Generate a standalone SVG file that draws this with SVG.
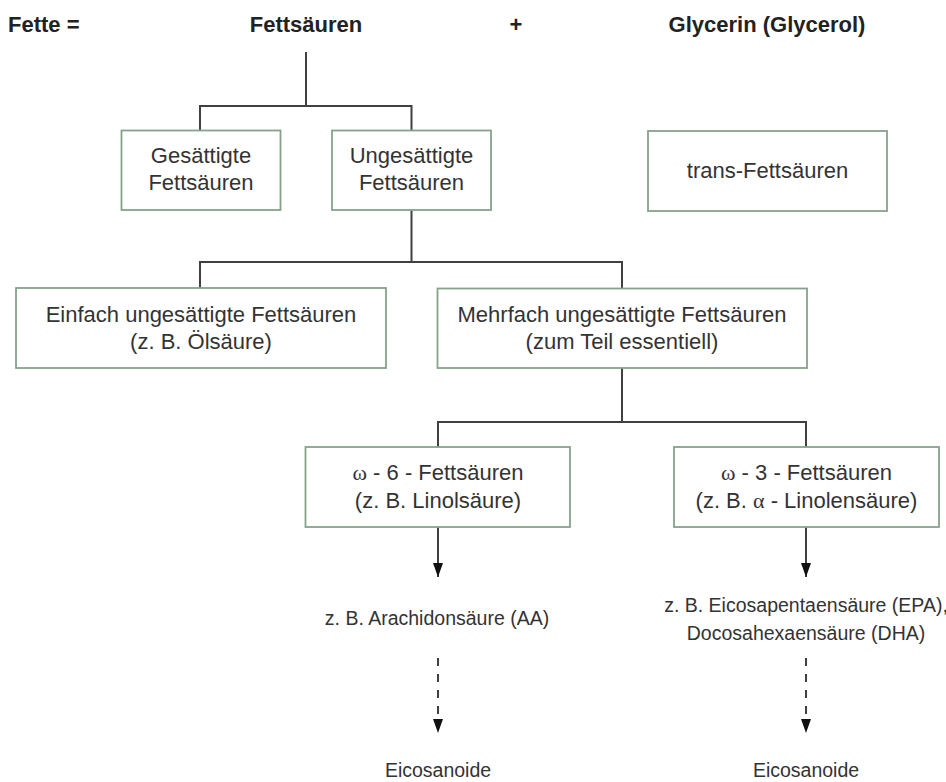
<svg xmlns="http://www.w3.org/2000/svg" width="946" height="782" viewBox="0 0 946 782">
<style>
.title{font-family:"Liberation Sans",Arial,sans-serif;font-weight:bold;font-size:22px;fill:#222}
.box{fill:#fff;stroke:#86a28b;stroke-width:1.8}
.t{font-family:"Liberation Sans",Arial,sans-serif;font-size:22px;fill:#333;text-anchor:middle}
.f{font-family:"Liberation Sans",Arial,sans-serif;font-size:19.5px;fill:#333;text-anchor:middle}
.g{font-family:"Liberation Serif","Times New Roman",serif}
.ln{fill:none;stroke:#404040;stroke-width:2}
.dash{stroke-dasharray:8 8}
</style>
<defs>
<marker id="ah" viewBox="0 0 14 10" refX="14" refY="5" markerWidth="14" markerHeight="10" markerUnits="userSpaceOnUse" orient="auto">
<path d="M0,0 L14,5 L0,10 z" fill="#111"/>
</marker>
</defs>
<rect width="946" height="782" fill="#fff"/>
<g id="header">
<text class="title" x="8" y="32">Fette =</text>
<text class="title" x="306" y="32" text-anchor="middle">Fettsäuren</text>
<text class="title" x="516" y="32" text-anchor="middle">+</text>
<text class="title" x="767" y="32" text-anchor="middle">Glycerin (Glycerol)</text>
</g>
<g id="connectors">
<path class="ln" d="M306,52 V106 M200,130 V106 H411.5 V130"/>
<path class="ln" d="M411.5,210 V262 M200,288 V262 H622 V288"/>
<path class="ln" d="M622,368 V422 M438,447 V422 H806 V447"/>
<path class="ln" d="M438,527 V577" marker-end="url(#ah)"/>
<path class="ln" d="M806,527 V577" marker-end="url(#ah)"/>
<path class="ln dash" d="M438,658 V733" marker-end="url(#ah)"/>
<path class="ln dash" d="M806,658 V733" marker-end="url(#ah)"/>
</g>
<g id="gesaettigte">
<rect class="box" x="121.5" y="130.5" width="159" height="79.5"/>
<text class="t" x="201" y="163">Gesättigte</text>
<text class="t" x="201" y="190">Fettsäuren</text>
</g>
<g id="ungesaettigte">
<rect class="box" x="332" y="130.5" width="159" height="79.5"/>
<text class="t" x="411.5" y="163">Ungesättigte</text>
<text class="t" x="411.5" y="190">Fettsäuren</text>
</g>
<g id="trans">
<rect class="box" x="648" y="131" width="239" height="80"/>
<text class="t" x="767.5" y="178">trans-Fettsäuren</text>
</g>
<g id="einfach">
<rect class="box" x="16" y="288" width="370" height="80"/>
<text class="t" x="201" y="322">Einfach ungesättigte Fettsäuren</text>
<text class="t" x="201" y="349">(z. B. Ölsäure)</text>
</g>
<g id="mehrfach">
<rect class="box" x="437.5" y="288.5" width="369.5" height="79.5"/>
<text class="t" x="622" y="322">Mehrfach ungesättigte Fettsäuren</text>
<text class="t" x="622" y="349">(zum Teil essentiell)</text>
</g>
<g id="omega6">
<rect class="box" x="305.5" y="447" width="264.5" height="80"/>
<text class="t" x="438" y="480"><tspan class="g">ω</tspan> - 6 - Fettsäuren</text>
<text class="t" x="438" y="508">(z. B. Linolsäure)</text>
</g>
<g id="omega3">
<rect class="box" x="674" y="447" width="265" height="80"/>
<text class="t" x="806.5" y="480"><tspan class="g">ω</tspan> - 3 - Fettsäuren</text>
<text class="t" x="806.5" y="508">(z. B. <tspan class="g">α</tspan> - Linolensäure)</text>
</g>
<g id="aa">
<text class="f" x="437" y="625">z. B. Arachidonsäure (AA)</text>
</g>
<g id="epa-dha">
<text class="f" x="806" y="612">z. B. Eicosapentaensäure (EPA),</text>
<text class="f" x="806" y="640">Docosahexaensäure (DHA)</text>
</g>
<g id="eicosanoide1">
<text class="f" x="438" y="777">Eicosanoide</text>
</g>
<g id="eicosanoide2">
<text class="f" x="806" y="777">Eicosanoide</text>
</g>
</svg>
